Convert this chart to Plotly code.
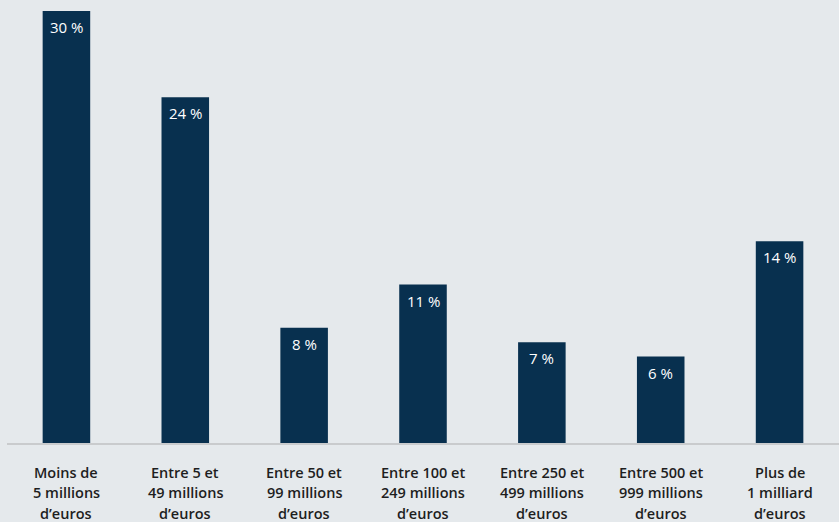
import plotly.graph_objects as go

# Répartition par tranche de chiffre d'affaires
categories = [
    "Moins de<br>5 millions<br>d’euros",
    "Entre 5 et<br>49 millions<br>d’euros",
    "Entre 50 et<br>99 millions<br>d’euros",
    "Entre 100 et<br>249 millions<br>d’euros",
    "Entre 250 et<br>499 millions<br>d’euros",
    "Entre 500 et<br>999 millions<br>d’euros",
    "Plus de<br>1 milliard<br>d’euros",
]
values = [30, 24, 8, 11, 7, 6, 14]
value_labels = [f"{v} %" for v in values]

BG = "#e5e9ec"
BAR = "#08304f"
TEXT = "#1e1e1e"
FONT = "Open Sans"

fig = go.Figure(
    go.Bar(
        x=list(range(len(categories))),
        y=values,
        marker=dict(color=BAR, line=dict(width=0)),
        width=0.4,
        hoverinfo="skip",
    )
)

annotations = []
# value labels inside the top of each bar
for i, (v, lab) in enumerate(zip(values, value_labels)):
    annotations.append(dict(
        x=i, y=v, xref="x", yref="y", text=lab, showarrow=False,
        yanchor="middle", yshift=-16,
        font=dict(family=FONT, size=15, color="white", weight=500),
    ))
# category labels below the axis, one line at a time
for i, cat in enumerate(categories):
    for j, line in enumerate(cat.split("<br>")):
        annotations.append(dict(
            x=i, y=0, xref="x", yref="paper", text=line, showarrow=False,
            yanchor="middle", yshift=-29 - 20.5 * j,
            font=dict(family=FONT, size=14.5, color=TEXT, weight=600),
        ))

fig.update_layout(
    width=839, height=522,
    margin=dict(l=7, r=0, t=0, b=79),
    paper_bgcolor=BG, plot_bgcolor=BG,
    showlegend=False,
    annotations=annotations,
    xaxis=dict(
        range=[-0.5, len(categories) - 0.5],
        showticklabels=False, showgrid=False, zeroline=False,
        showline=True, linecolor="#c9cbcd", linewidth=2, ticks="",
        fixedrange=True,
    ),
    yaxis=dict(
        range=[0, 30.76], visible=False, showgrid=False, zeroline=False,
        fixedrange=True,
    ),
)

fig.write_html("out.html", config={"displayModeBar": False})
